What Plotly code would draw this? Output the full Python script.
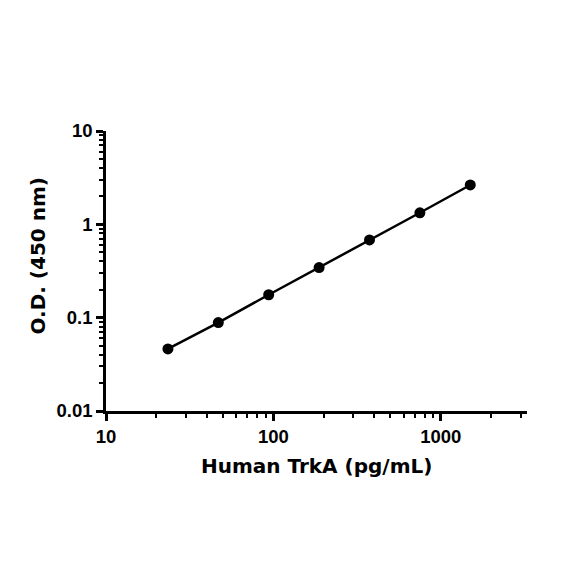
import plotly.graph_objects as go

# standard curve
conc = [23.44, 46.88, 93.75, 187.5, 375, 750, 1500]
od = [0.0462, 0.0885, 0.176, 0.344, 0.68, 1.33, 2.64]

x_ticks = [10, 100, 1000]
y_ticks = [0.01, 0.1, 1, 10]
y_labels = ["0.01", "0.1", "1", "10"]

fig = go.Figure()
fig.add_trace(go.Scatter(
    x=conc, y=od, mode="lines+markers",
    line=dict(color="black", width=2.5),
    marker=dict(color="black", size=11),
    showlegend=False,
))

tick_font = dict(family="Liberation Sans", size=18.5, color="black", weight="bold")
title_font = dict(family="DejaVu Sans", size=20, color="black")

# page body has an 8px margin, so the plot box is shifted back by that
fig.update_layout(
    width=584, height=584,
    margin=dict(l=98, r=65, t=123, b=181),
    plot_bgcolor="white", paper_bgcolor="white",
)
fig.update_xaxes(
    type="log", range=[1, 3.515],
    tickvals=x_ticks, ticktext=[str(v) for v in x_ticks],
    showline=True, linecolor="black", linewidth=2.5,
    ticks="outside", ticklen=7, tickwidth=2.5, tickcolor="black",
    minor=dict(ticks="outside", ticklen=4, tickwidth=2, tickcolor="black",
               dtick="D1", showgrid=False),
    showgrid=False, zeroline=False,
    tickfont=tick_font,
)
fig.update_yaxes(
    type="log", range=[-2, 1],
    tickvals=y_ticks, ticktext=y_labels,
    showline=True, linecolor="black", linewidth=2.5,
    ticks="outside", ticklen=7, tickwidth=2.5, tickcolor="black",
    minor=dict(ticks="outside", ticklen=4, tickwidth=2, tickcolor="black",
               dtick="D1", showgrid=False),
    showgrid=False, zeroline=False,
    tickfont=tick_font,
)

fig.add_annotation(
    text="<b>Human TrkA (pg/mL)</b>", xref="paper", yref="paper",
    x=0.5, y=-0.145, xanchor="center", yanchor="top",
    showarrow=False, font=title_font,
)
fig.add_annotation(
    text="<b>O.D. (450 nm)</b>", xref="paper", yref="paper",
    x=-0.1625, y=0.554, xanchor="center", yanchor="middle",
    textangle=-90, showarrow=False, font=title_font,
)

fig.write_html("out.html")
